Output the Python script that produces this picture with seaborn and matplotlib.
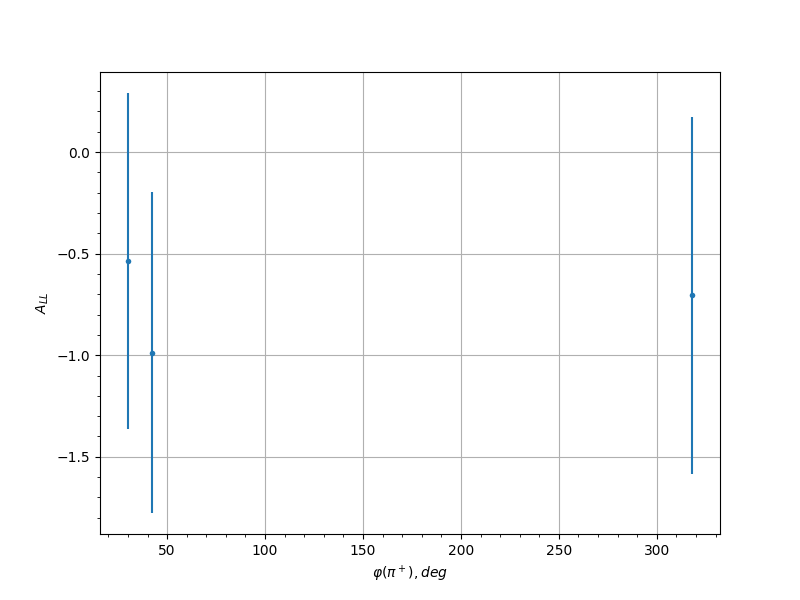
import matplotlib
matplotlib.use('Agg')
import matplotlib.pyplot as plt
import seaborn as sns
import pandas as pd

# phi(pi+) in degrees, asymmetry A_LL and its error
phi_deg = [30.1, 42.3, 317.9]
a_ll = [-0.535, -0.987, -0.705]
a_ll_err = [0.826, 0.79, 0.88]

df = pd.DataFrame({'phi': phi_deg, 'all': a_ll, 'err': a_ll_err})

fig, ax = plt.subplots(figsize=(8, 6), dpi=100)

ax.errorbar(df['phi'], df['all'], yerr=df['err'], fmt='none', ecolor='#1f77b4', elinewidth=1.5)
sns.scatterplot(data=df, x='phi', y='all', ax=ax, color='#1f77b4', s=16, linewidth=0, zorder=3)

ax.minorticks_on()
ax.grid(True, which='major')
ax.set_xlabel(r'$\varphi(\pi^+), deg$')
ax.set_ylabel(r'$A_{LL}$')

fig.savefig('out.png', dpi=100)
